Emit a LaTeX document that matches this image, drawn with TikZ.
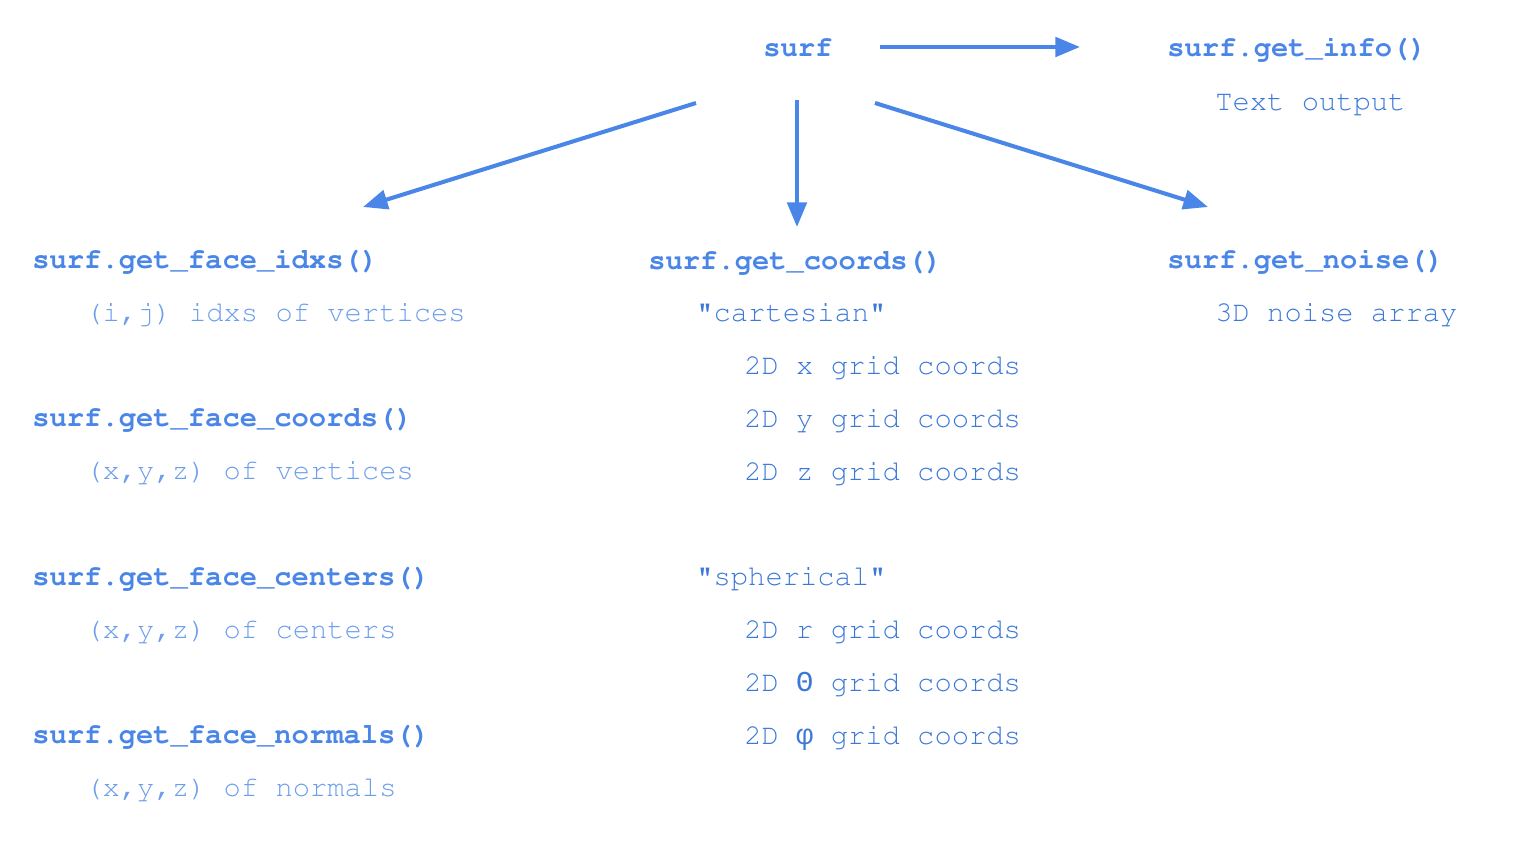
\documentclass[tikz,border=0pt]{standalone}
\usepackage[T1]{fontenc}
\usepackage{fontspec}
\newfontfamily\greekmono{Liberation Mono}
\newcommand\courfont{\fontencoding{T1}\fontfamily{pcr}\selectfont}
\usetikzlibrary{arrows.meta,calc}
\definecolor{headblue}{HTML}{4A86E8}
\definecolor{softblue}{HTML}{6D9EEB}
\definecolor{deepblue}{HTML}{3C78D8}
\begin{document}
\begin{tikzpicture}[
    x=0.02cm, y=-0.02cm,
    head/.style={anchor=base west, inner sep=0pt, text=headblue, font=\courfont\fontsize{16.4}{20}\selectfont\bfseries},
    sub/.style={anchor=base west, inner sep=0pt, text=softblue, font=\courfont\fontsize{16.4}{20}\selectfont},
    item/.style={anchor=base west, inner sep=0pt, text=deepblue, font=\courfont\fontsize{16.4}{20}\selectfont},
    arr/.style={draw=headblue, line width=2.3pt, -{Triangle[length=14pt, width=11pt]}}
]
    \useasboundingbox (0,0) rectangle (1536,864);

    % 顶部节点
    \node[head] (surf) at (763, 57) {surf};
    \node[head] (info) at (1167, 57) {surf.get\_info()};
    \node[item] (infotxt) at (1215, 111) {Text output};

    % 左列
    \node[head] (idxs) at (32, 269) {surf.get\_face\_idxs()};
    \node[sub] (idxstxt) at (85, 322) {(i,j) idxs of vertices};
    \node[head] (fcoords) at (32, 427) {surf.get\_face\_coords()};
    \node[sub] (fcoordstxt) at (85, 480) {(x,y,z) of vertices};
    \node[head] (centers) at (32, 586) {surf.get\_face\_centers()};
    \node[sub] (centerstxt) at (85, 639) {(x,y,z) of centers};
    \node[head] (normals) at (32, 744) {surf.get\_face\_normals()};
    \node[sub] (normalstxt) at (85, 797) {(x,y,z) of normals};

    % 中列
    \node[head] (coords) at (648, 270) {surf.get\_coords()};
    \node[item] (cart) at (696, 322) {"cartesian"};
    \node[item] (cx) at (744, 375) {2D x grid coords};
    \node[item] (cy) at (744, 428) {2D y grid coords};
    \node[item] (cz) at (744, 481) {2D z grid coords};
    \node[item] (sph) at (696, 586) {"spherical"};
    \node[item] (sr) at (744, 639) {2D r grid coords};
    \node[item] (st) at (744, 692) {2D {\greekmono Θ} grid coords};
    \node[item] (sp) at (744, 745) {2D {\greekmono φ} grid coords};

    % 右列
    \node[head] (noise) at (1167, 269) {surf.get\_noise()};
    \node[item] (noisetxt) at (1215, 322) {3D noise array};

    % 箭头
    \draw[arr] ($(surf.base west)+(117,-10)$) -- ($(info.base west)+(-87,-10)$);
    \draw[arr] ($(surf.base west)+(-67,46)$) -- ($(idxs.base west)+(331,-62)$);
    \draw[arr] ($(surf.base west)+(34,43)$) -- ($(coords.base west)+(149,-43)$);
    \draw[arr] ($(surf.base west)+(112,46)$) -- ($(noise.base west)+(41,-62)$);
\end{tikzpicture}
\end{document}
